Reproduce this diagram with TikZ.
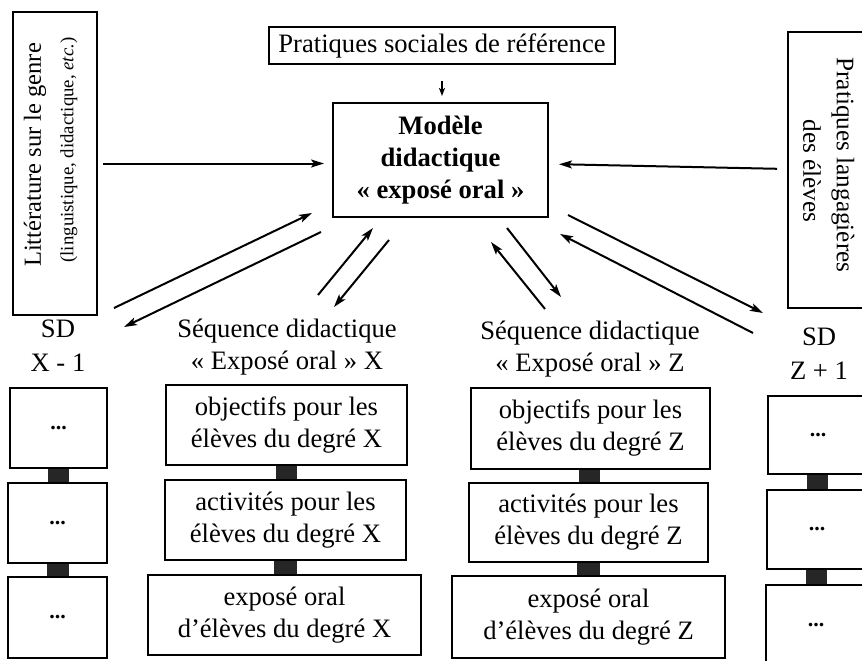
\documentclass[tikz,border=0pt]{standalone}
\usepackage{fontspec}
\setmainfont{Liberation Serif}
\usetikzlibrary{arrows.meta}
\begin{document}
\begin{tikzpicture}[x=1pt,y=-1pt,
  every node/.style={font=\fontsize{26.6}{32}\selectfont, inner sep=0pt, align=center},
  box/.style={draw, line width=2pt},
  arr/.style={line width=2pt, -{Stealth[length=13pt,width=8pt,inset=3pt]}},
  smallarr/.style={line width=1.6pt, -{Stealth[length=8pt,width=6pt,inset=2pt]}},
  bar/.style={fill=black!85},
  dotsbox/.style={box, font=\bfseries\fontsize{22}{22}\selectfont}]
\clip (0,0) rectangle (862,661);

% top boxes
\node[box, minimum width=346pt, minimum height=37pt] (psr) at (442,45.5) {Pratiques sociales de référence};
\node[box, minimum width=215pt, minimum height=114pt, font=\bfseries\fontsize{26.6}{32}\selectfont] (mod) at (440.5,160) {Modèle\\didactique\\«~exposé oral~»};

\node[box, minimum width=84pt, minimum height=303pt] (lit) at (55,163.5) {};
\node[rotate=90, font=\fontsize{24.5}{30}\selectfont] (lit1) at (35,155) {Littérature sur le genre};
\node[rotate=90, font=\fontsize{18.8}{22}\selectfont] (lit2) at (69,150) {(linguistique, didactique, \textit{etc.})};

\node[box, minimum width=80pt, minimum height=276pt] (pl) at (828,170) {};
\node[rotate=-90, font=\fontsize{25.2}{30}\selectfont] (pl1) at (843,165) {Pratiques langagières};
\node[rotate=-90, font=\fontsize{25.2}{30}\selectfont] (pl2) at (812,171) {des élèves};

% arrows into / out of the model
\draw[smallarr, shorten <=16pt, shorten >=6pt] (psr.south) -- (psr.south |- mod.north);
\draw[arr, shorten <=5pt, shorten >=8pt] (lit.east) -- (lit.east -| mod.west);
\draw[arr, shorten <=10pt, shorten >=10pt] ([yshift=1pt]pl.west) -- ([yshift=-4pt]mod.east);

\coordinate (a1s) at (114,308); \coordinate (a1e) at (312,213);
\coordinate (a2s) at (321,232); \coordinate (a2e) at (124,327);
\coordinate (a3s) at (318,295); \coordinate (a3e) at (373,228);
\coordinate (a4s) at (389,240); \coordinate (a4e) at (334,307);
\coordinate (a5s) at (545,309); \coordinate (a5e) at (491,242);
\coordinate (a6s) at (507,228); \coordinate (a6e) at (561,297);
\coordinate (a7s) at (568,215); \coordinate (a7e) at (763,313);
\coordinate (a8s) at (753,333); \coordinate (a8e) at (560,234);
\foreach \i in {1,...,8} \draw[arr] (a\i s) -- (a\i e);

% labels
\node (sdx) at (58,346) {SD\\[2pt]X - 1};
\node (sdz) at (819,353.5) {SD\\[2pt]Z + 1};
\node (seqx) at (287,347) {Séquence didactique\\«~Exposé oral~» X};
\node (seqz) at (590,349.5) {Séquence didactique\\«~Exposé oral~» Z};

% X column
\node[box, minimum width=241pt, minimum height=80pt] (ox1) at (286.5,425) {objectifs pour les\\élèves du degré X};
\node[box, minimum width=241pt, minimum height=80pt] (ox2) at (285.5,520) {activités pour les\\élèves du degré X};
\node[box, minimum width=273pt, minimum height=80pt] (ox3) at (284.5,615) {exposé oral\\d’élèves du degré X};
\fill[bar] ([xshift=-11pt]ox1.south) rectangle ([xshift=11pt]ox2.north);
\fill[bar] ([xshift=-12pt]ox2.south) rectangle ([xshift=12pt]ox3.north);

% Z column
\node[box, minimum width=239pt, minimum height=81pt] (oz1) at (590.5,428.5) {objectifs pour les\\élèves du degré Z};
\node[box, minimum width=239pt, minimum height=79pt] (oz2) at (588.5,522.5) {activités pour les\\élèves du degré Z};
\node[box, minimum width=273pt, minimum height=82pt] (oz3) at (588.5,617) {exposé oral\\d’élèves du degré Z};
\fill[bar] ([xshift=-11.5pt]oz1.south) rectangle ([xshift=11.5pt]oz2.north);
\fill[bar] ([xshift=-11.5pt]oz2.south) rectangle ([xshift=11.5pt]oz3.north);

% left SD X-1
\node[dotsbox, minimum width=97pt, minimum height=80pt] (l1) at (58.5,428) {...};
\node[dotsbox, minimum width=99pt, minimum height=80pt] (l2) at (57.5,523) {...};
\node[dotsbox, minimum width=99pt, minimum height=81pt] (l3) at (57.5,617.5) {...};
\fill[bar] ([xshift=-11pt]l1.south) rectangle ([xshift=11pt]l2.north);
\fill[bar] ([xshift=-11pt]l2.south) rectangle ([xshift=11pt]l3.north);

% right SD Z+1
\node[dotsbox, minimum width=100pt, minimum height=78pt] (r1) at (818,435) {...};
\node[dotsbox, minimum width=100pt, minimum height=79pt] (r2) at (817,529.5) {...};
\node[dotsbox, minimum width=100pt, minimum height=80pt] (r3) at (816,625) {...};
\fill[bar] ([xshift=-11pt]r1.south) rectangle ([xshift=11pt]r2.north);
\fill[bar] ([xshift=-11pt]r2.south) rectangle ([xshift=11pt]r3.north);
\end{tikzpicture}
\end{document}
